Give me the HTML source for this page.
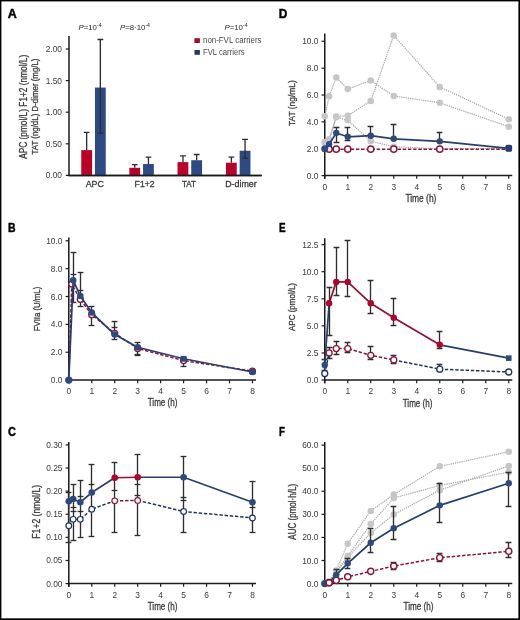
<!DOCTYPE html>
<html><head><meta charset="utf-8"><style>
html,body{margin:0;padding:0;background:#fff;overflow:hidden;}
svg{display:block;will-change:transform;}
text{font-family:"Liberation Sans",sans-serif;}
</style></head><body>
<svg width="520" height="620" viewBox="0 0 520 620">
<rect x="0" y="0" width="520" height="620" fill="#fff"/>
<text x="7.8" y="17.7" font-size="12.8" font-weight="bold" fill="#000" stroke="#000" stroke-width="0.45" textLength="9.0" lengthAdjust="spacingAndGlyphs">A</text>
<line x1="69.00" y1="36.00" x2="69.00" y2="176.10" stroke="#1a1a1a" stroke-width="1.5"/>
<line x1="68.25" y1="175.40" x2="261.70" y2="175.40" stroke="#1a1a1a" stroke-width="1.5"/>
<line x1="65.80" y1="175.40" x2="69.00" y2="175.40" stroke="#1a1a1a" stroke-width="1.2"/>
<text x="62.00" y="178.40" font-size="8.4" fill="#3a3a3a" text-anchor="end">0.00</text>
<line x1="65.80" y1="143.80" x2="69.00" y2="143.80" stroke="#1a1a1a" stroke-width="1.2"/>
<text x="62.00" y="146.80" font-size="8.4" fill="#3a3a3a" text-anchor="end">0.50</text>
<line x1="65.80" y1="112.20" x2="69.00" y2="112.20" stroke="#1a1a1a" stroke-width="1.2"/>
<text x="62.00" y="115.20" font-size="8.4" fill="#3a3a3a" text-anchor="end">1.00</text>
<line x1="65.80" y1="80.60" x2="69.00" y2="80.60" stroke="#1a1a1a" stroke-width="1.2"/>
<text x="62.00" y="83.60" font-size="8.4" fill="#3a3a3a" text-anchor="end">1.50</text>
<line x1="65.80" y1="49.00" x2="69.00" y2="49.00" stroke="#1a1a1a" stroke-width="1.2"/>
<text x="62.00" y="52.00" font-size="8.4" fill="#3a3a3a" text-anchor="end">2.00</text>
<path d="M86.65,132.42V150.12M83.75,132.42H89.55" stroke="#2e2e2e" stroke-width="1.35"/>
<rect x="81.25" y="150.12" width="10.8" height="25.28" fill="#bc0029"/>
<rect x="94.95" y="87.55" width="10.8" height="87.85" fill="#2c4a84"/>
<path d="M100.35,39.52V133.06M97.45,39.52H103.25" stroke="#2e2e2e" stroke-width="1.35"/>
<path d="M97.45,133.06H103.25" stroke="#2e2e2e" stroke-width="1.35"/>
<path d="M134.75,164.66V167.82M131.85,164.66H137.65" stroke="#2e2e2e" stroke-width="1.35"/>
<rect x="129.35" y="167.82" width="10.8" height="7.58" fill="#bc0029"/>
<rect x="143.05" y="164.02" width="10.8" height="11.38" fill="#2c4a84"/>
<path d="M148.45,157.07V164.02M145.55,157.07H151.35" stroke="#2e2e2e" stroke-width="1.35"/>
<path d="M182.95,155.81V162.13M180.05,155.81H185.85" stroke="#2e2e2e" stroke-width="1.35"/>
<rect x="177.55" y="162.13" width="10.8" height="13.27" fill="#bc0029"/>
<rect x="191.25" y="160.23" width="10.8" height="15.17" fill="#2c4a84"/>
<path d="M196.65,154.54V160.23M193.75,154.54H199.55" stroke="#2e2e2e" stroke-width="1.35"/>
<path d="M231.35,157.07V162.76M228.45,157.07H234.25" stroke="#2e2e2e" stroke-width="1.35"/>
<rect x="225.95" y="162.76" width="10.8" height="12.64" fill="#bc0029"/>
<rect x="239.65" y="150.75" width="10.8" height="24.65" fill="#2c4a84"/>
<path d="M245.05,139.38V158.34M242.15,139.38H247.95" stroke="#2e2e2e" stroke-width="1.35"/>
<path d="M242.15,158.34H247.95" stroke="#2e2e2e" stroke-width="1.35"/>
<line x1="68.25" y1="175.40" x2="261.70" y2="175.40" stroke="#1a1a1a" stroke-width="1.5"/>
<text x="94.80" y="186.80" font-size="9.0" fill="#3a3a3a" stroke="#3a3a3a" stroke-width="0.3" text-anchor="middle" textLength="18.2" lengthAdjust="spacingAndGlyphs">APC</text>
<text x="144.60" y="186.80" font-size="9.0" fill="#3a3a3a" stroke="#3a3a3a" stroke-width="0.3" text-anchor="middle" textLength="20.0" lengthAdjust="spacingAndGlyphs">F1+2</text>
<text x="188.90" y="186.80" font-size="9.0" fill="#3a3a3a" stroke="#3a3a3a" stroke-width="0.3" text-anchor="middle" textLength="14.0" lengthAdjust="spacingAndGlyphs">TAT</text>
<text x="240.90" y="186.80" font-size="9.0" fill="#3a3a3a" stroke="#3a3a3a" stroke-width="0.3" text-anchor="middle" textLength="31.5" lengthAdjust="spacingAndGlyphs">D-dimer</text>
<text x="78.5" y="30.2" font-size="7.8" fill="#2a2a2a"><tspan font-style="italic">P</tspan>=10<tspan font-size="5.2" dy="-3">-4</tspan></text>
<text x="120.0" y="30.2" font-size="7.8" fill="#2a2a2a"><tspan font-style="italic">P</tspan>=8·10<tspan font-size="5.2" dy="-3">-4</tspan></text>
<text x="224.5" y="30.2" font-size="7.8" fill="#2a2a2a"><tspan font-style="italic">P</tspan>=10<tspan font-size="5.2" dy="-3">-4</tspan></text>
<rect x="194.4" y="38.2" width="5.5" height="4.8" fill="#a50a2e"/>
<rect x="194.5" y="50.0" width="5.4" height="4.8" fill="#26386c"/>
<text x="203.00" y="43.20" font-size="8.2" fill="#4a4a4a" text-anchor="start" textLength="58.5" lengthAdjust="spacingAndGlyphs">non-FVL carriers</text>
<text x="203.00" y="54.70" font-size="8.2" fill="#4a4a4a" text-anchor="start" textLength="41.6" lengthAdjust="spacingAndGlyphs">FVL carriers</text>
<text transform="translate(27.30,106.80) rotate(-90)" x="0" y="0" font-size="10" fill="#3a3a3a" stroke="#3a3a3a" stroke-width="0.3" text-anchor="middle" textLength="104.0" lengthAdjust="spacingAndGlyphs">APC (pmol/L) F1+2 (nmol/L)</text>
<text transform="translate(38.40,106.50) rotate(-90)" x="0" y="0" font-size="9.6" fill="#3a3a3a" stroke="#3a3a3a" stroke-width="0.3" text-anchor="middle" textLength="96.0" lengthAdjust="spacingAndGlyphs">TAT (ng/dL) D-dimer (mg/L)</text>
<text x="278.8" y="17.8" font-size="12.8" font-weight="bold" fill="#000" stroke="#000" stroke-width="0.45" textLength="8.6" lengthAdjust="spacingAndGlyphs">D</text>
<line x1="324.75" y1="33.50" x2="324.75" y2="178.80" stroke="#1a1a1a" stroke-width="1.5"/>
<line x1="324.00" y1="175.60" x2="512.25" y2="175.60" stroke="#1a1a1a" stroke-width="1.5"/>
<line x1="321.55" y1="175.60" x2="324.75" y2="175.60" stroke="#1a1a1a" stroke-width="1.2"/>
<text x="318.45" y="178.60" font-size="8.4" fill="#3a3a3a" text-anchor="end">0.0</text>
<line x1="321.55" y1="148.74" x2="324.75" y2="148.74" stroke="#1a1a1a" stroke-width="1.2"/>
<text x="318.45" y="151.74" font-size="8.4" fill="#3a3a3a" text-anchor="end">2.0</text>
<line x1="321.55" y1="121.88" x2="324.75" y2="121.88" stroke="#1a1a1a" stroke-width="1.2"/>
<text x="318.45" y="124.88" font-size="8.4" fill="#3a3a3a" text-anchor="end">4.0</text>
<line x1="321.55" y1="95.02" x2="324.75" y2="95.02" stroke="#1a1a1a" stroke-width="1.2"/>
<text x="318.45" y="98.02" font-size="8.4" fill="#3a3a3a" text-anchor="end">6.0</text>
<line x1="321.55" y1="68.16" x2="324.75" y2="68.16" stroke="#1a1a1a" stroke-width="1.2"/>
<text x="318.45" y="71.16" font-size="8.4" fill="#3a3a3a" text-anchor="end">8.0</text>
<line x1="321.55" y1="41.30" x2="324.75" y2="41.30" stroke="#1a1a1a" stroke-width="1.2"/>
<text x="318.45" y="44.30" font-size="8.4" fill="#3a3a3a" text-anchor="end">10.0</text>
<line x1="324.75" y1="175.60" x2="324.75" y2="178.80" stroke="#1a1a1a" stroke-width="1.2"/>
<text x="324.75" y="189.60" font-size="8.4" fill="#3a3a3a" text-anchor="middle">0</text>
<line x1="347.75" y1="175.60" x2="347.75" y2="178.80" stroke="#1a1a1a" stroke-width="1.2"/>
<text x="347.75" y="189.60" font-size="8.4" fill="#3a3a3a" text-anchor="middle">1</text>
<line x1="370.75" y1="175.60" x2="370.75" y2="178.80" stroke="#1a1a1a" stroke-width="1.2"/>
<text x="370.75" y="189.60" font-size="8.4" fill="#3a3a3a" text-anchor="middle">2</text>
<line x1="393.75" y1="175.60" x2="393.75" y2="178.80" stroke="#1a1a1a" stroke-width="1.2"/>
<text x="393.75" y="189.60" font-size="8.4" fill="#3a3a3a" text-anchor="middle">3</text>
<line x1="416.75" y1="175.60" x2="416.75" y2="178.80" stroke="#1a1a1a" stroke-width="1.2"/>
<text x="416.75" y="189.60" font-size="8.4" fill="#3a3a3a" text-anchor="middle">4</text>
<line x1="439.75" y1="175.60" x2="439.75" y2="178.80" stroke="#1a1a1a" stroke-width="1.2"/>
<text x="439.75" y="189.60" font-size="8.4" fill="#3a3a3a" text-anchor="middle">5</text>
<line x1="462.75" y1="175.60" x2="462.75" y2="178.80" stroke="#1a1a1a" stroke-width="1.2"/>
<text x="462.75" y="189.60" font-size="8.4" fill="#3a3a3a" text-anchor="middle">6</text>
<line x1="485.75" y1="175.60" x2="485.75" y2="178.80" stroke="#1a1a1a" stroke-width="1.2"/>
<text x="485.75" y="189.60" font-size="8.4" fill="#3a3a3a" text-anchor="middle">7</text>
<line x1="508.75" y1="175.60" x2="508.75" y2="178.80" stroke="#1a1a1a" stroke-width="1.2"/>
<text x="508.75" y="189.60" font-size="8.4" fill="#3a3a3a" text-anchor="middle">8</text>
<path d="M324.75,116.37 L329.12,96.36 L336.25,77.56 L347.75,88.98 L370.75,80.52 L393.75,95.96 L439.75,102.81 L508.75,126.71" stroke="#aaaaaa" stroke-width="1.25" fill="none" stroke-linejoin="round" stroke-dasharray="1.3,0.9"/>
<path d="M324.75,142.02 L329.12,139.34 L336.25,116.51 L347.75,115.70 L370.75,100.93 L393.75,35.39 L439.75,86.96 L508.75,119.19" stroke="#aaaaaa" stroke-width="1.25" fill="none" stroke-linejoin="round" stroke-dasharray="1.3,0.9"/>
<path d="M324.75,142.70 L329.12,140.68 L336.25,117.18 L347.75,120.27 L370.75,141.22 L393.75,146.73 L439.75,148.74 L508.75,148.74" stroke="#aaaaaa" stroke-width="1.25" fill="none" stroke-linejoin="round" stroke-dasharray="1.3,0.9"/>
<circle cx="324.75" cy="116.37" r="3.25" fill="#c6c6c6"/>
<circle cx="329.12" cy="96.36" r="3.25" fill="#c6c6c6"/>
<circle cx="336.25" cy="77.56" r="3.25" fill="#c6c6c6"/>
<circle cx="347.75" cy="88.98" r="3.25" fill="#c6c6c6"/>
<circle cx="370.75" cy="80.52" r="3.25" fill="#c6c6c6"/>
<circle cx="393.75" cy="95.96" r="3.25" fill="#c6c6c6"/>
<circle cx="439.75" cy="102.81" r="3.25" fill="#c6c6c6"/>
<circle cx="508.75" cy="126.71" r="3.25" fill="#c6c6c6"/>
<circle cx="324.75" cy="142.02" r="3.25" fill="#c6c6c6"/>
<circle cx="329.12" cy="139.34" r="3.25" fill="#c6c6c6"/>
<circle cx="336.25" cy="116.51" r="3.25" fill="#c6c6c6"/>
<circle cx="347.75" cy="115.70" r="3.25" fill="#c6c6c6"/>
<circle cx="370.75" cy="100.93" r="3.25" fill="#c6c6c6"/>
<circle cx="393.75" cy="35.39" r="3.25" fill="#c6c6c6"/>
<circle cx="439.75" cy="86.96" r="3.25" fill="#c6c6c6"/>
<circle cx="508.75" cy="119.19" r="3.25" fill="#c6c6c6"/>
<circle cx="324.75" cy="142.70" r="3.25" fill="#c6c6c6"/>
<circle cx="329.12" cy="140.68" r="3.25" fill="#c6c6c6"/>
<circle cx="336.25" cy="117.18" r="3.25" fill="#c6c6c6"/>
<circle cx="347.75" cy="120.27" r="3.25" fill="#c6c6c6"/>
<circle cx="370.75" cy="141.22" r="3.25" fill="#c6c6c6"/>
<circle cx="393.75" cy="146.73" r="3.25" fill="#c6c6c6"/>
<circle cx="439.75" cy="148.74" r="3.25" fill="#c6c6c6"/>
<circle cx="508.75" cy="148.74" r="3.25" fill="#c6c6c6"/>
<path d="M336.50,127.50V142.50M333.60,127.50H339.40M333.60,142.50H339.40" stroke="#2e2e2e" stroke-width="1.35" fill="none"/>
<path d="M347.50,127.50V140.50M344.60,127.50H350.40M344.60,140.50H350.40" stroke="#2e2e2e" stroke-width="1.35" fill="none"/>
<path d="M370.50,126.50V135.50M367.60,126.50H373.40M367.60,135.50H373.40" stroke="#2e2e2e" stroke-width="1.35" fill="none"/>
<path d="M393.50,124.50V138.50M390.60,124.50H396.40M390.60,138.50H396.40" stroke="#2e2e2e" stroke-width="1.35" fill="none"/>
<path d="M439.50,132.50V141.50M436.60,132.50H442.40M436.60,141.50H442.40" stroke="#2e2e2e" stroke-width="1.35" fill="none"/>
<path d="M324.75,149.14 L329.12,149.14 L336.25,149.14 L347.75,149.14 L370.75,149.14 L393.75,149.14 L439.75,149.14 L508.75,149.14" stroke="#8c1434" stroke-width="1.5" fill="none" stroke-linejoin="round" stroke-dasharray="3.4,1.8"/>
<path d="M324.75,148.74 L329.12,144.17 L336.25,133.03 L347.75,136.79 L370.75,135.71 L393.75,138.80 L439.75,141.35 L508.75,148.34" stroke="#243f70" stroke-width="1.7" fill="none" stroke-linejoin="round"/>
<circle cx="329.12" cy="149.14" r="3.1" fill="#fff" stroke="#8c1434" stroke-width="1.4"/>
<circle cx="336.25" cy="149.14" r="3.1" fill="#fff" stroke="#8c1434" stroke-width="1.4"/>
<circle cx="347.75" cy="149.14" r="3.1" fill="#fff" stroke="#8c1434" stroke-width="1.4"/>
<circle cx="370.75" cy="149.14" r="3.1" fill="#fff" stroke="#8c1434" stroke-width="1.4"/>
<circle cx="393.75" cy="149.14" r="3.1" fill="#fff" stroke="#8c1434" stroke-width="1.4"/>
<circle cx="439.75" cy="149.14" r="3.1" fill="#fff" stroke="#8c1434" stroke-width="1.4"/>
<circle cx="324.75" cy="148.74" r="3.5" fill="#2c4a80"/>
<circle cx="329.12" cy="144.17" r="3.2" fill="#2c4a80"/>
<circle cx="336.25" cy="133.03" r="3.2" fill="#2c4a80"/>
<circle cx="347.75" cy="136.79" r="3.2" fill="#2c4a80"/>
<circle cx="370.75" cy="135.71" r="3.2" fill="#2c4a80"/>
<circle cx="393.75" cy="138.80" r="3.2" fill="#2c4a80"/>
<circle cx="439.75" cy="141.35" r="3.2" fill="#2c4a80"/>
<rect x="505.35" y="144.74" width="6.8" height="7.0" rx="1.8" fill="#273f72"/>
<text x="420.90" y="202.30" font-size="10.8" fill="#3a3a3a" stroke="#3a3a3a" stroke-width="0.3" text-anchor="middle" textLength="31.0" lengthAdjust="spacingAndGlyphs">Time (h)</text>
<text transform="translate(295.30,103.20) rotate(-90)" x="0" y="0" font-size="9.6" fill="#3a3a3a" stroke="#3a3a3a" stroke-width="0.3" text-anchor="middle" textLength="45.8" lengthAdjust="spacingAndGlyphs">TAT (ng/mL)</text>
<text x="8.0" y="231.9" font-size="12.8" font-weight="bold" fill="#000" stroke="#000" stroke-width="0.45" textLength="7.6" lengthAdjust="spacingAndGlyphs">B</text>
<line x1="68.80" y1="237.50" x2="68.80" y2="383.30" stroke="#1a1a1a" stroke-width="1.5"/>
<line x1="68.05" y1="380.10" x2="255.98" y2="380.10" stroke="#1a1a1a" stroke-width="1.5"/>
<line x1="65.60" y1="380.10" x2="68.80" y2="380.10" stroke="#1a1a1a" stroke-width="1.2"/>
<text x="62.50" y="383.10" font-size="8.4" fill="#3a3a3a" text-anchor="end">0.0</text>
<line x1="65.60" y1="352.24" x2="68.80" y2="352.24" stroke="#1a1a1a" stroke-width="1.2"/>
<text x="62.50" y="355.24" font-size="8.4" fill="#3a3a3a" text-anchor="end">2.0</text>
<line x1="65.60" y1="324.38" x2="68.80" y2="324.38" stroke="#1a1a1a" stroke-width="1.2"/>
<text x="62.50" y="327.38" font-size="8.4" fill="#3a3a3a" text-anchor="end">4.0</text>
<line x1="65.60" y1="296.52" x2="68.80" y2="296.52" stroke="#1a1a1a" stroke-width="1.2"/>
<text x="62.50" y="299.52" font-size="8.4" fill="#3a3a3a" text-anchor="end">6.0</text>
<line x1="65.60" y1="268.66" x2="68.80" y2="268.66" stroke="#1a1a1a" stroke-width="1.2"/>
<text x="62.50" y="271.66" font-size="8.4" fill="#3a3a3a" text-anchor="end">8.0</text>
<line x1="65.60" y1="240.80" x2="68.80" y2="240.80" stroke="#1a1a1a" stroke-width="1.2"/>
<text x="62.50" y="243.80" font-size="8.4" fill="#3a3a3a" text-anchor="end">10.0</text>
<line x1="68.80" y1="380.10" x2="68.80" y2="383.30" stroke="#1a1a1a" stroke-width="1.2"/>
<text x="68.80" y="394.10" font-size="8.4" fill="#3a3a3a" text-anchor="middle">0</text>
<line x1="91.76" y1="380.10" x2="91.76" y2="383.30" stroke="#1a1a1a" stroke-width="1.2"/>
<text x="91.76" y="394.10" font-size="8.4" fill="#3a3a3a" text-anchor="middle">1</text>
<line x1="114.72" y1="380.10" x2="114.72" y2="383.30" stroke="#1a1a1a" stroke-width="1.2"/>
<text x="114.72" y="394.10" font-size="8.4" fill="#3a3a3a" text-anchor="middle">2</text>
<line x1="137.68" y1="380.10" x2="137.68" y2="383.30" stroke="#1a1a1a" stroke-width="1.2"/>
<text x="137.68" y="394.10" font-size="8.4" fill="#3a3a3a" text-anchor="middle">3</text>
<line x1="160.64" y1="380.10" x2="160.64" y2="383.30" stroke="#1a1a1a" stroke-width="1.2"/>
<text x="160.64" y="394.10" font-size="8.4" fill="#3a3a3a" text-anchor="middle">4</text>
<line x1="183.60" y1="380.10" x2="183.60" y2="383.30" stroke="#1a1a1a" stroke-width="1.2"/>
<text x="183.60" y="394.10" font-size="8.4" fill="#3a3a3a" text-anchor="middle">5</text>
<line x1="206.56" y1="380.10" x2="206.56" y2="383.30" stroke="#1a1a1a" stroke-width="1.2"/>
<text x="206.56" y="394.10" font-size="8.4" fill="#3a3a3a" text-anchor="middle">6</text>
<line x1="229.52" y1="380.10" x2="229.52" y2="383.30" stroke="#1a1a1a" stroke-width="1.2"/>
<text x="229.52" y="394.10" font-size="8.4" fill="#3a3a3a" text-anchor="middle">7</text>
<line x1="252.48" y1="380.10" x2="252.48" y2="383.30" stroke="#1a1a1a" stroke-width="1.2"/>
<text x="252.48" y="394.10" font-size="8.4" fill="#3a3a3a" text-anchor="middle">8</text>
<path d="M73.50,252.50V302.50" stroke="#2e2e2e" stroke-width="1.35"/>
<path d="M70.60,252.50H76.40" stroke="#2e2e2e" stroke-width="1.35"/>
<path d="M70.60,274.50H76.40" stroke="#2e2e2e" stroke-width="1.35"/>
<path d="M70.60,302.50H76.40" stroke="#2e2e2e" stroke-width="1.35"/>
<path d="M80.50,272.50V306.50" stroke="#2e2e2e" stroke-width="1.35"/>
<path d="M77.60,272.50H83.40" stroke="#2e2e2e" stroke-width="1.35"/>
<path d="M77.60,290.50H83.40" stroke="#2e2e2e" stroke-width="1.35"/>
<path d="M77.60,306.50H83.40" stroke="#2e2e2e" stroke-width="1.35"/>
<path d="M91.50,306.50V325.50" stroke="#2e2e2e" stroke-width="1.35"/>
<path d="M88.60,306.50H94.40" stroke="#2e2e2e" stroke-width="1.35"/>
<path d="M88.60,325.50H94.40" stroke="#2e2e2e" stroke-width="1.35"/>
<path d="M114.50,321.50V339.50" stroke="#2e2e2e" stroke-width="1.35"/>
<path d="M111.60,321.50H117.40" stroke="#2e2e2e" stroke-width="1.35"/>
<path d="M111.60,327.50H117.40" stroke="#2e2e2e" stroke-width="1.35"/>
<path d="M111.60,339.50H117.40" stroke="#2e2e2e" stroke-width="1.35"/>
<path d="M137.50,342.50V355.50" stroke="#2e2e2e" stroke-width="1.35"/>
<path d="M134.60,342.50H140.40" stroke="#2e2e2e" stroke-width="1.35"/>
<path d="M134.60,354.50H140.40" stroke="#2e2e2e" stroke-width="1.35"/>
<path d="M134.60,355.50H140.40" stroke="#2e2e2e" stroke-width="1.35"/>
<path d="M183.50,357.50V366.50" stroke="#2e2e2e" stroke-width="1.35"/>
<path d="M180.60,357.50H186.40" stroke="#2e2e2e" stroke-width="1.35"/>
<path d="M180.60,366.50H186.40" stroke="#2e2e2e" stroke-width="1.35"/>
<path d="M252.50,370.50V373.50" stroke="#2e2e2e" stroke-width="1.35"/>
<path d="M249.60,370.50H255.40" stroke="#2e2e2e" stroke-width="1.35"/>
<path d="M249.60,373.50H255.40" stroke="#2e2e2e" stroke-width="1.35"/>
<path d="M68.80,380.10 L71.78,283.98 L80.28,299.31 L91.76,314.63 L114.72,333.30 L137.68,348.48 L183.60,360.60 L252.48,371.18" stroke="#8c1434" stroke-width="1.5" fill="none" stroke-linejoin="round" stroke-dasharray="3.4,1.8"/>
<circle cx="71.78" cy="283.98" r="3.0" fill="#fff" stroke="#8c1434" stroke-width="1.35"/>
<circle cx="80.28" cy="299.31" r="3.0" fill="#fff" stroke="#8c1434" stroke-width="1.35"/>
<circle cx="91.76" cy="314.63" r="3.0" fill="#fff" stroke="#8c1434" stroke-width="1.35"/>
<circle cx="114.72" cy="333.30" r="3.0" fill="#fff" stroke="#8c1434" stroke-width="1.35"/>
<circle cx="137.68" cy="348.48" r="3.0" fill="#fff" stroke="#8c1434" stroke-width="1.35"/>
<circle cx="183.60" cy="360.60" r="3.0" fill="#fff" stroke="#8c1434" stroke-width="1.35"/>
<circle cx="252.48" cy="371.18" r="3.0" fill="#fff" stroke="#8c1434" stroke-width="1.35"/>
<path d="M68.80,380.10 L73.16,280.22 L80.28,295.96 L91.76,312.54 L114.72,334.55 L137.68,347.23 L183.60,358.79 L252.48,372.02" stroke="#243f70" stroke-width="1.7" fill="none" stroke-linejoin="round"/>
<circle cx="68.80" cy="380.10" r="3.7" fill="#2c4a80"/>
<circle cx="73.16" cy="280.22" r="3.3" fill="#2c4a80"/>
<circle cx="80.28" cy="295.96" r="3.3" fill="#2c4a80"/>
<circle cx="91.76" cy="312.54" r="3.3" fill="#2c4a80"/>
<circle cx="114.72" cy="334.55" r="3.3" fill="#2c4a80"/>
<circle cx="137.68" cy="347.23" r="3.3" fill="#2c4a80"/>
<rect x="180.70" y="355.89" width="5.80" height="5.80" fill="#2c4a80"/>
<circle cx="252.48" cy="372.02" r="3.3" fill="#2c4a80"/>
<text x="162.60" y="406.40" font-size="10.8" fill="#3a3a3a" stroke="#3a3a3a" stroke-width="0.3" text-anchor="middle" textLength="29.8" lengthAdjust="spacingAndGlyphs">Time (h)</text>
<text transform="translate(39.70,309.00) rotate(-90)" x="0" y="0" font-size="9.8" fill="#3a3a3a" stroke="#3a3a3a" stroke-width="0.3" text-anchor="middle" textLength="44.6" lengthAdjust="spacingAndGlyphs">FVIIa (U/mL)</text>
<text x="278.9" y="231.8" font-size="12.8" font-weight="bold" fill="#000" stroke="#000" stroke-width="0.45" textLength="6.6" lengthAdjust="spacingAndGlyphs">E</text>
<line x1="324.75" y1="238.20" x2="324.75" y2="383.20" stroke="#1a1a1a" stroke-width="1.5"/>
<line x1="324.00" y1="380.00" x2="512.25" y2="380.00" stroke="#1a1a1a" stroke-width="1.5"/>
<line x1="321.55" y1="380.00" x2="324.75" y2="380.00" stroke="#1a1a1a" stroke-width="1.2"/>
<text x="318.45" y="383.00" font-size="8.4" fill="#3a3a3a" text-anchor="end">0.0</text>
<line x1="321.55" y1="352.93" x2="324.75" y2="352.93" stroke="#1a1a1a" stroke-width="1.2"/>
<text x="318.45" y="355.93" font-size="8.4" fill="#3a3a3a" text-anchor="end">2.5</text>
<line x1="321.55" y1="325.85" x2="324.75" y2="325.85" stroke="#1a1a1a" stroke-width="1.2"/>
<text x="318.45" y="328.85" font-size="8.4" fill="#3a3a3a" text-anchor="end">5.0</text>
<line x1="321.55" y1="298.77" x2="324.75" y2="298.77" stroke="#1a1a1a" stroke-width="1.2"/>
<text x="318.45" y="301.77" font-size="8.4" fill="#3a3a3a" text-anchor="end">7.5</text>
<line x1="321.55" y1="271.70" x2="324.75" y2="271.70" stroke="#1a1a1a" stroke-width="1.2"/>
<text x="318.45" y="274.70" font-size="8.4" fill="#3a3a3a" text-anchor="end">10.0</text>
<line x1="321.55" y1="244.62" x2="324.75" y2="244.62" stroke="#1a1a1a" stroke-width="1.2"/>
<text x="318.45" y="247.62" font-size="8.4" fill="#3a3a3a" text-anchor="end">12.5</text>
<line x1="324.75" y1="380.00" x2="324.75" y2="383.20" stroke="#1a1a1a" stroke-width="1.2"/>
<text x="324.75" y="394.00" font-size="8.4" fill="#3a3a3a" text-anchor="middle">0</text>
<line x1="347.75" y1="380.00" x2="347.75" y2="383.20" stroke="#1a1a1a" stroke-width="1.2"/>
<text x="347.75" y="394.00" font-size="8.4" fill="#3a3a3a" text-anchor="middle">1</text>
<line x1="370.75" y1="380.00" x2="370.75" y2="383.20" stroke="#1a1a1a" stroke-width="1.2"/>
<text x="370.75" y="394.00" font-size="8.4" fill="#3a3a3a" text-anchor="middle">2</text>
<line x1="393.75" y1="380.00" x2="393.75" y2="383.20" stroke="#1a1a1a" stroke-width="1.2"/>
<text x="393.75" y="394.00" font-size="8.4" fill="#3a3a3a" text-anchor="middle">3</text>
<line x1="416.75" y1="380.00" x2="416.75" y2="383.20" stroke="#1a1a1a" stroke-width="1.2"/>
<text x="416.75" y="394.00" font-size="8.4" fill="#3a3a3a" text-anchor="middle">4</text>
<line x1="439.75" y1="380.00" x2="439.75" y2="383.20" stroke="#1a1a1a" stroke-width="1.2"/>
<text x="439.75" y="394.00" font-size="8.4" fill="#3a3a3a" text-anchor="middle">5</text>
<line x1="462.75" y1="380.00" x2="462.75" y2="383.20" stroke="#1a1a1a" stroke-width="1.2"/>
<text x="462.75" y="394.00" font-size="8.4" fill="#3a3a3a" text-anchor="middle">6</text>
<line x1="485.75" y1="380.00" x2="485.75" y2="383.20" stroke="#1a1a1a" stroke-width="1.2"/>
<text x="485.75" y="394.00" font-size="8.4" fill="#3a3a3a" text-anchor="middle">7</text>
<line x1="508.75" y1="380.00" x2="508.75" y2="383.20" stroke="#1a1a1a" stroke-width="1.2"/>
<text x="508.75" y="394.00" font-size="8.4" fill="#3a3a3a" text-anchor="middle">8</text>
<path d="M324.50,359.50V370.50M321.60,359.50H327.40M321.60,370.50H327.40" stroke="#2e2e2e" stroke-width="1.35" fill="none"/>
<path d="M329.50,287.50V335.50M326.60,287.50H332.40M326.60,335.50H332.40" stroke="#2e2e2e" stroke-width="1.35" fill="none"/>
<path d="M336.50,247.50V295.50M333.60,247.50H339.40M333.60,295.50H339.40" stroke="#2e2e2e" stroke-width="1.35" fill="none"/>
<path d="M347.50,240.50V296.50M344.60,240.50H350.40M344.60,296.50H350.40" stroke="#2e2e2e" stroke-width="1.35" fill="none"/>
<path d="M370.50,280.50V313.50M367.60,280.50H373.40M367.60,313.50H373.40" stroke="#2e2e2e" stroke-width="1.35" fill="none"/>
<path d="M393.50,298.50V325.50M390.60,298.50H396.40M390.60,325.50H396.40" stroke="#2e2e2e" stroke-width="1.35" fill="none"/>
<path d="M439.50,331.50V348.50M436.60,331.50H442.40M436.60,348.50H442.40" stroke="#2e2e2e" stroke-width="1.35" fill="none"/>
<path d="M329.50,347.50V358.50M326.60,347.50H332.40M326.60,358.50H332.40" stroke="#2e2e2e" stroke-width="1.35" fill="none"/>
<path d="M336.50,341.50V354.50M333.60,341.50H339.40M333.60,354.50H339.40" stroke="#2e2e2e" stroke-width="1.35" fill="none"/>
<path d="M347.50,342.50V352.50M344.60,342.50H350.40M344.60,352.50H350.40" stroke="#2e2e2e" stroke-width="1.35" fill="none"/>
<path d="M370.50,346.50V359.50M367.60,346.50H373.40M367.60,359.50H373.40" stroke="#2e2e2e" stroke-width="1.35" fill="none"/>
<path d="M393.50,355.50V363.50M390.60,355.50H396.40M390.60,363.50H396.40" stroke="#2e2e2e" stroke-width="1.35" fill="none"/>
<path d="M439.50,364.50V370.50M436.60,364.50H442.40M436.60,370.50H442.40" stroke="#2e2e2e" stroke-width="1.35" fill="none"/>
<path d="M508.50,370.50V373.50M505.60,370.50H511.40M505.60,373.50H511.40" stroke="#2e2e2e" stroke-width="1.35" fill="none"/>
<path d="M324.75,373.61 L329.12,352.93" stroke="#1f3560" stroke-width="1.5" fill="none" stroke-linejoin="round" stroke-dasharray="3.4,1.8"/>
<path d="M329.12,352.93 L336.25,348.59 L347.75,348.59 L370.75,355.31 L393.75,359.96" stroke="#8c1434" stroke-width="1.5" fill="none" stroke-linejoin="round" stroke-dasharray="3.4,1.8"/>
<path d="M393.75,359.96 L439.75,369.17 L508.75,371.99" stroke="#1f3560" stroke-width="1.5" fill="none" stroke-linejoin="round" stroke-dasharray="3.4,1.8"/>
<path d="M324.75,364.95 L329.12,303.32" stroke="#243f70" stroke-width="1.7" fill="none" stroke-linejoin="round"/>
<path d="M329.12,303.32 L336.25,281.88 L347.75,281.88 L370.75,303.32 L393.75,317.73 L439.75,344.80" stroke="#990d30" stroke-width="1.7" fill="none" stroke-linejoin="round"/>
<path d="M439.75,344.80 L508.75,358.12" stroke="#243f70" stroke-width="1.7" fill="none" stroke-linejoin="round"/>
<circle cx="324.75" cy="373.61" r="3.0" fill="#fff" stroke="#1f3560" stroke-width="1.3"/>
<circle cx="329.12" cy="352.93" r="3.0" fill="#fff" stroke="#8c1434" stroke-width="1.3"/>
<circle cx="336.25" cy="348.59" r="3.0" fill="#fff" stroke="#8c1434" stroke-width="1.3"/>
<circle cx="347.75" cy="348.59" r="3.0" fill="#fff" stroke="#8c1434" stroke-width="1.3"/>
<circle cx="370.75" cy="355.31" r="3.0" fill="#fff" stroke="#8c1434" stroke-width="1.3"/>
<circle cx="393.75" cy="359.96" r="3.0" fill="#fff" stroke="#8c1434" stroke-width="1.3"/>
<circle cx="439.75" cy="369.17" r="3.0" fill="#fff" stroke="#1f3560" stroke-width="1.3"/>
<circle cx="508.75" cy="371.99" r="3.0" fill="#fff" stroke="#1f3560" stroke-width="1.3"/>
<circle cx="324.75" cy="364.95" r="3.2" fill="#2c4a80"/>
<circle cx="329.12" cy="303.32" r="3.2" fill="#b5002c"/>
<circle cx="336.25" cy="281.88" r="3.2" fill="#b5002c"/>
<circle cx="347.75" cy="281.88" r="3.2" fill="#b5002c"/>
<circle cx="370.75" cy="303.32" r="3.2" fill="#b5002c"/>
<circle cx="393.75" cy="317.73" r="3.2" fill="#b5002c"/>
<circle cx="439.75" cy="344.80" r="3.2" fill="#b5002c"/>
<rect x="505.95" y="355.32" width="5.60" height="5.60" fill="#2c4a80"/>
<text x="417.60" y="406.60" font-size="10.8" fill="#3a3a3a" stroke="#3a3a3a" stroke-width="0.3" text-anchor="middle" textLength="29.8" lengthAdjust="spacingAndGlyphs">Time (h)</text>
<text transform="translate(295.30,307.00) rotate(-90)" x="0" y="0" font-size="9.6" fill="#3a3a3a" stroke="#3a3a3a" stroke-width="0.3" text-anchor="middle" textLength="48.0" lengthAdjust="spacingAndGlyphs">APC (pmol/L)</text>
<text x="8.0" y="436.2" font-size="12.8" font-weight="bold" fill="#000" stroke="#000" stroke-width="0.45" textLength="7.9" lengthAdjust="spacingAndGlyphs">C</text>
<line x1="68.80" y1="442.00" x2="68.80" y2="586.80" stroke="#1a1a1a" stroke-width="1.5"/>
<line x1="68.05" y1="583.60" x2="255.98" y2="583.60" stroke="#1a1a1a" stroke-width="1.5"/>
<line x1="65.60" y1="583.60" x2="68.80" y2="583.60" stroke="#1a1a1a" stroke-width="1.2"/>
<text x="62.50" y="586.60" font-size="8.4" fill="#3a3a3a" text-anchor="end">0.00</text>
<line x1="65.60" y1="560.49" x2="68.80" y2="560.49" stroke="#1a1a1a" stroke-width="1.2"/>
<text x="62.50" y="563.49" font-size="8.4" fill="#3a3a3a" text-anchor="end">0.05</text>
<line x1="65.60" y1="537.37" x2="68.80" y2="537.37" stroke="#1a1a1a" stroke-width="1.2"/>
<text x="62.50" y="540.37" font-size="8.4" fill="#3a3a3a" text-anchor="end">0.10</text>
<line x1="65.60" y1="514.25" x2="68.80" y2="514.25" stroke="#1a1a1a" stroke-width="1.2"/>
<text x="62.50" y="517.25" font-size="8.4" fill="#3a3a3a" text-anchor="end">0.15</text>
<line x1="65.60" y1="491.14" x2="68.80" y2="491.14" stroke="#1a1a1a" stroke-width="1.2"/>
<text x="62.50" y="494.14" font-size="8.4" fill="#3a3a3a" text-anchor="end">0.20</text>
<line x1="65.60" y1="468.03" x2="68.80" y2="468.03" stroke="#1a1a1a" stroke-width="1.2"/>
<text x="62.50" y="471.03" font-size="8.4" fill="#3a3a3a" text-anchor="end">0.25</text>
<line x1="65.60" y1="444.91" x2="68.80" y2="444.91" stroke="#1a1a1a" stroke-width="1.2"/>
<text x="62.50" y="447.91" font-size="8.4" fill="#3a3a3a" text-anchor="end">0.30</text>
<line x1="68.80" y1="583.60" x2="68.80" y2="586.80" stroke="#1a1a1a" stroke-width="1.2"/>
<text x="68.80" y="597.60" font-size="8.4" fill="#3a3a3a" text-anchor="middle">0</text>
<line x1="91.76" y1="583.60" x2="91.76" y2="586.80" stroke="#1a1a1a" stroke-width="1.2"/>
<text x="91.76" y="597.60" font-size="8.4" fill="#3a3a3a" text-anchor="middle">1</text>
<line x1="114.72" y1="583.60" x2="114.72" y2="586.80" stroke="#1a1a1a" stroke-width="1.2"/>
<text x="114.72" y="597.60" font-size="8.4" fill="#3a3a3a" text-anchor="middle">2</text>
<line x1="137.68" y1="583.60" x2="137.68" y2="586.80" stroke="#1a1a1a" stroke-width="1.2"/>
<text x="137.68" y="597.60" font-size="8.4" fill="#3a3a3a" text-anchor="middle">3</text>
<line x1="160.64" y1="583.60" x2="160.64" y2="586.80" stroke="#1a1a1a" stroke-width="1.2"/>
<text x="160.64" y="597.60" font-size="8.4" fill="#3a3a3a" text-anchor="middle">4</text>
<line x1="183.60" y1="583.60" x2="183.60" y2="586.80" stroke="#1a1a1a" stroke-width="1.2"/>
<text x="183.60" y="597.60" font-size="8.4" fill="#3a3a3a" text-anchor="middle">5</text>
<line x1="206.56" y1="583.60" x2="206.56" y2="586.80" stroke="#1a1a1a" stroke-width="1.2"/>
<text x="206.56" y="597.60" font-size="8.4" fill="#3a3a3a" text-anchor="middle">6</text>
<line x1="229.52" y1="583.60" x2="229.52" y2="586.80" stroke="#1a1a1a" stroke-width="1.2"/>
<text x="229.52" y="597.60" font-size="8.4" fill="#3a3a3a" text-anchor="middle">7</text>
<line x1="252.48" y1="583.60" x2="252.48" y2="586.80" stroke="#1a1a1a" stroke-width="1.2"/>
<text x="252.48" y="597.60" font-size="8.4" fill="#3a3a3a" text-anchor="middle">8</text>
<path d="M68.50,492.50V542.50" stroke="#2e2e2e" stroke-width="1.35"/>
<path d="M65.60,492.50H71.40" stroke="#2e2e2e" stroke-width="1.35"/>
<path d="M65.60,542.50H71.40" stroke="#2e2e2e" stroke-width="1.35"/>
<path d="M73.50,484.50V540.50" stroke="#2e2e2e" stroke-width="1.35"/>
<path d="M70.60,484.50H76.40" stroke="#2e2e2e" stroke-width="1.35"/>
<path d="M70.60,507.50H76.40" stroke="#2e2e2e" stroke-width="1.35"/>
<path d="M70.60,511.50H76.40" stroke="#2e2e2e" stroke-width="1.35"/>
<path d="M70.60,540.50H76.40" stroke="#2e2e2e" stroke-width="1.35"/>
<path d="M80.50,480.50V537.50" stroke="#2e2e2e" stroke-width="1.35"/>
<path d="M77.60,480.50H83.40" stroke="#2e2e2e" stroke-width="1.35"/>
<path d="M77.60,496.50H83.40" stroke="#2e2e2e" stroke-width="1.35"/>
<path d="M77.60,511.50H83.40" stroke="#2e2e2e" stroke-width="1.35"/>
<path d="M77.60,537.50H83.40" stroke="#2e2e2e" stroke-width="1.35"/>
<path d="M91.50,464.50V536.50" stroke="#2e2e2e" stroke-width="1.35"/>
<path d="M88.60,464.50H94.40" stroke="#2e2e2e" stroke-width="1.35"/>
<path d="M88.60,484.50H94.40" stroke="#2e2e2e" stroke-width="1.35"/>
<path d="M88.60,536.50H94.40" stroke="#2e2e2e" stroke-width="1.35"/>
<path d="M114.50,462.50V532.50" stroke="#2e2e2e" stroke-width="1.35"/>
<path d="M111.60,462.50H117.40" stroke="#2e2e2e" stroke-width="1.35"/>
<path d="M111.60,490.50H117.40" stroke="#2e2e2e" stroke-width="1.35"/>
<path d="M111.60,532.50H117.40" stroke="#2e2e2e" stroke-width="1.35"/>
<path d="M137.50,454.50V535.50" stroke="#2e2e2e" stroke-width="1.35"/>
<path d="M134.60,454.50H140.40" stroke="#2e2e2e" stroke-width="1.35"/>
<path d="M134.60,484.50H140.40" stroke="#2e2e2e" stroke-width="1.35"/>
<path d="M134.60,495.50H140.40" stroke="#2e2e2e" stroke-width="1.35"/>
<path d="M134.60,535.50H140.40" stroke="#2e2e2e" stroke-width="1.35"/>
<path d="M183.50,456.50V532.50" stroke="#2e2e2e" stroke-width="1.35"/>
<path d="M180.60,456.50H186.40" stroke="#2e2e2e" stroke-width="1.35"/>
<path d="M180.60,497.50H186.40" stroke="#2e2e2e" stroke-width="1.35"/>
<path d="M180.60,500.50H186.40" stroke="#2e2e2e" stroke-width="1.35"/>
<path d="M180.60,532.50H186.40" stroke="#2e2e2e" stroke-width="1.35"/>
<path d="M252.50,481.50V532.50" stroke="#2e2e2e" stroke-width="1.35"/>
<path d="M249.60,481.50H255.40" stroke="#2e2e2e" stroke-width="1.35"/>
<path d="M249.60,507.50H255.40" stroke="#2e2e2e" stroke-width="1.35"/>
<path d="M249.60,532.50H255.40" stroke="#2e2e2e" stroke-width="1.35"/>
<path d="M68.80,525.81 L73.16,519.34 L80.28,519.34 L91.76,509.17 L114.72,500.85" stroke="#1f3560" stroke-width="1.5" fill="none" stroke-linejoin="round" stroke-dasharray="3.4,1.8"/>
<path d="M114.72,500.85 L137.68,500.39" stroke="#8c1434" stroke-width="1.5" fill="none" stroke-linejoin="round" stroke-dasharray="3.4,1.8"/>
<path d="M137.68,500.39 L183.60,511.48 L252.48,517.95" stroke="#1f3560" stroke-width="1.5" fill="none" stroke-linejoin="round" stroke-dasharray="3.4,1.8"/>
<path d="M68.80,501.31 L73.16,499.00 L80.28,502.24 L91.76,492.53 L114.72,477.73" stroke="#243f70" stroke-width="1.7" fill="none" stroke-linejoin="round"/>
<path d="M114.72,477.73 L137.68,477.27" stroke="#990d30" stroke-width="1.7" fill="none" stroke-linejoin="round"/>
<path d="M137.68,477.27 L183.60,477.27 L252.48,502.24" stroke="#243f70" stroke-width="1.7" fill="none" stroke-linejoin="round"/>
<circle cx="68.80" cy="525.81" r="2.85" fill="#fff" stroke="#1f3560" stroke-width="1.2"/>
<circle cx="73.16" cy="519.34" r="2.85" fill="#fff" stroke="#1f3560" stroke-width="1.2"/>
<circle cx="80.28" cy="519.34" r="2.85" fill="#fff" stroke="#1f3560" stroke-width="1.2"/>
<circle cx="91.76" cy="509.17" r="2.85" fill="#fff" stroke="#1f3560" stroke-width="1.2"/>
<circle cx="114.72" cy="500.85" r="2.85" fill="#fff" stroke="#8c1434" stroke-width="1.2"/>
<circle cx="137.68" cy="500.39" r="2.85" fill="#fff" stroke="#8c1434" stroke-width="1.2"/>
<circle cx="183.60" cy="511.48" r="2.85" fill="#fff" stroke="#1f3560" stroke-width="1.2"/>
<circle cx="252.48" cy="517.95" r="2.85" fill="#fff" stroke="#1f3560" stroke-width="1.2"/>
<circle cx="68.80" cy="501.31" r="3.3" fill="#2c4a80"/>
<circle cx="73.16" cy="499.00" r="3.3" fill="#2c4a80"/>
<circle cx="80.28" cy="502.24" r="3.3" fill="#2c4a80"/>
<circle cx="91.76" cy="492.53" r="3.3" fill="#2c4a80"/>
<circle cx="114.72" cy="477.73" r="3.3" fill="#b5002c"/>
<circle cx="137.68" cy="477.27" r="3.3" fill="#b5002c"/>
<circle cx="183.60" cy="477.27" r="3.3" fill="#2c4a80"/>
<circle cx="252.48" cy="502.24" r="3.3" fill="#2c4a80"/>
<text x="162.60" y="610.00" font-size="10.8" fill="#3a3a3a" stroke="#3a3a3a" stroke-width="0.3" text-anchor="middle" textLength="29.8" lengthAdjust="spacingAndGlyphs">Time (h)</text>
<text transform="translate(39.60,511.80) rotate(-90)" x="0" y="0" font-size="10" fill="#3a3a3a" stroke="#3a3a3a" stroke-width="0.3" text-anchor="middle" textLength="53.7" lengthAdjust="spacingAndGlyphs">F1+2 (nmol/L)</text>
<text x="278.9" y="436.1" font-size="12.8" font-weight="bold" fill="#000" stroke="#000" stroke-width="0.45" textLength="5.9" lengthAdjust="spacingAndGlyphs">F</text>
<line x1="324.75" y1="442.00" x2="324.75" y2="586.80" stroke="#1a1a1a" stroke-width="1.5"/>
<line x1="324.00" y1="583.60" x2="512.25" y2="583.60" stroke="#1a1a1a" stroke-width="1.5"/>
<line x1="321.55" y1="583.60" x2="324.75" y2="583.60" stroke="#1a1a1a" stroke-width="1.2"/>
<text x="318.45" y="586.60" font-size="8.4" fill="#3a3a3a" text-anchor="end">0.0</text>
<line x1="321.55" y1="560.52" x2="324.75" y2="560.52" stroke="#1a1a1a" stroke-width="1.2"/>
<text x="318.45" y="563.52" font-size="8.4" fill="#3a3a3a" text-anchor="end">10.0</text>
<line x1="321.55" y1="537.44" x2="324.75" y2="537.44" stroke="#1a1a1a" stroke-width="1.2"/>
<text x="318.45" y="540.44" font-size="8.4" fill="#3a3a3a" text-anchor="end">20.0</text>
<line x1="321.55" y1="514.36" x2="324.75" y2="514.36" stroke="#1a1a1a" stroke-width="1.2"/>
<text x="318.45" y="517.36" font-size="8.4" fill="#3a3a3a" text-anchor="end">30.0</text>
<line x1="321.55" y1="491.28" x2="324.75" y2="491.28" stroke="#1a1a1a" stroke-width="1.2"/>
<text x="318.45" y="494.28" font-size="8.4" fill="#3a3a3a" text-anchor="end">40.0</text>
<line x1="321.55" y1="468.20" x2="324.75" y2="468.20" stroke="#1a1a1a" stroke-width="1.2"/>
<text x="318.45" y="471.20" font-size="8.4" fill="#3a3a3a" text-anchor="end">50.0</text>
<line x1="321.55" y1="445.12" x2="324.75" y2="445.12" stroke="#1a1a1a" stroke-width="1.2"/>
<text x="318.45" y="448.12" font-size="8.4" fill="#3a3a3a" text-anchor="end">60.0</text>
<line x1="324.75" y1="583.60" x2="324.75" y2="586.80" stroke="#1a1a1a" stroke-width="1.2"/>
<text x="324.75" y="597.60" font-size="8.4" fill="#3a3a3a" text-anchor="middle">0</text>
<line x1="347.75" y1="583.60" x2="347.75" y2="586.80" stroke="#1a1a1a" stroke-width="1.2"/>
<text x="347.75" y="597.60" font-size="8.4" fill="#3a3a3a" text-anchor="middle">1</text>
<line x1="370.75" y1="583.60" x2="370.75" y2="586.80" stroke="#1a1a1a" stroke-width="1.2"/>
<text x="370.75" y="597.60" font-size="8.4" fill="#3a3a3a" text-anchor="middle">2</text>
<line x1="393.75" y1="583.60" x2="393.75" y2="586.80" stroke="#1a1a1a" stroke-width="1.2"/>
<text x="393.75" y="597.60" font-size="8.4" fill="#3a3a3a" text-anchor="middle">3</text>
<line x1="416.75" y1="583.60" x2="416.75" y2="586.80" stroke="#1a1a1a" stroke-width="1.2"/>
<text x="416.75" y="597.60" font-size="8.4" fill="#3a3a3a" text-anchor="middle">4</text>
<line x1="439.75" y1="583.60" x2="439.75" y2="586.80" stroke="#1a1a1a" stroke-width="1.2"/>
<text x="439.75" y="597.60" font-size="8.4" fill="#3a3a3a" text-anchor="middle">5</text>
<line x1="462.75" y1="583.60" x2="462.75" y2="586.80" stroke="#1a1a1a" stroke-width="1.2"/>
<text x="462.75" y="597.60" font-size="8.4" fill="#3a3a3a" text-anchor="middle">6</text>
<line x1="485.75" y1="583.60" x2="485.75" y2="586.80" stroke="#1a1a1a" stroke-width="1.2"/>
<text x="485.75" y="597.60" font-size="8.4" fill="#3a3a3a" text-anchor="middle">7</text>
<line x1="508.75" y1="583.60" x2="508.75" y2="586.80" stroke="#1a1a1a" stroke-width="1.2"/>
<text x="508.75" y="597.60" font-size="8.4" fill="#3a3a3a" text-anchor="middle">8</text>
<path d="M324.75,583.60 L329.12,581.29 L336.25,570.44 L347.75,543.67 L370.75,510.90 L393.75,494.51 L439.75,466.35 L508.75,451.81" stroke="#aaaaaa" stroke-width="1.25" fill="none" stroke-linejoin="round" stroke-dasharray="1.3,0.9"/>
<path d="M324.75,583.60 L329.12,581.52 L336.25,572.06 L347.75,555.90 L370.75,524.05 L393.75,497.97 L439.75,485.51 L508.75,472.12" stroke="#aaaaaa" stroke-width="1.25" fill="none" stroke-linejoin="round" stroke-dasharray="1.3,0.9"/>
<path d="M324.75,583.60 L329.12,581.75 L336.25,573.21 L347.75,557.06 L370.75,533.05 L393.75,514.59 L439.75,490.13 L508.75,465.89" stroke="#aaaaaa" stroke-width="1.25" fill="none" stroke-linejoin="round" stroke-dasharray="1.3,0.9"/>
<circle cx="324.75" cy="583.60" r="3.25" fill="#c6c6c6"/>
<circle cx="329.12" cy="581.29" r="3.25" fill="#c6c6c6"/>
<circle cx="336.25" cy="570.44" r="3.25" fill="#c6c6c6"/>
<circle cx="347.75" cy="543.67" r="3.25" fill="#c6c6c6"/>
<circle cx="370.75" cy="510.90" r="3.25" fill="#c6c6c6"/>
<circle cx="393.75" cy="494.51" r="3.25" fill="#c6c6c6"/>
<circle cx="439.75" cy="466.35" r="3.25" fill="#c6c6c6"/>
<circle cx="508.75" cy="451.81" r="3.25" fill="#c6c6c6"/>
<circle cx="324.75" cy="583.60" r="3.25" fill="#c6c6c6"/>
<circle cx="329.12" cy="581.52" r="3.25" fill="#c6c6c6"/>
<circle cx="336.25" cy="572.06" r="3.25" fill="#c6c6c6"/>
<circle cx="347.75" cy="555.90" r="3.25" fill="#c6c6c6"/>
<circle cx="370.75" cy="524.05" r="3.25" fill="#c6c6c6"/>
<circle cx="393.75" cy="497.97" r="3.25" fill="#c6c6c6"/>
<circle cx="439.75" cy="485.51" r="3.25" fill="#c6c6c6"/>
<circle cx="508.75" cy="472.12" r="3.25" fill="#c6c6c6"/>
<circle cx="324.75" cy="583.60" r="3.25" fill="#c6c6c6"/>
<circle cx="329.12" cy="581.75" r="3.25" fill="#c6c6c6"/>
<circle cx="336.25" cy="573.21" r="3.25" fill="#c6c6c6"/>
<circle cx="347.75" cy="557.06" r="3.25" fill="#c6c6c6"/>
<circle cx="370.75" cy="533.05" r="3.25" fill="#c6c6c6"/>
<circle cx="393.75" cy="514.59" r="3.25" fill="#c6c6c6"/>
<circle cx="439.75" cy="490.13" r="3.25" fill="#c6c6c6"/>
<circle cx="508.75" cy="465.89" r="3.25" fill="#c6c6c6"/>
<path d="M336.50,569.50V578.50M333.60,569.50H339.40M333.60,578.50H339.40" stroke="#2e2e2e" stroke-width="1.35" fill="none"/>
<path d="M347.50,558.50V568.50M344.60,558.50H350.40M344.60,568.50H350.40" stroke="#2e2e2e" stroke-width="1.35" fill="none"/>
<path d="M370.50,528.50V552.50M367.60,528.50H373.40M367.60,552.50H373.40" stroke="#2e2e2e" stroke-width="1.35" fill="none"/>
<path d="M393.50,506.50V539.50M390.60,506.50H396.40M390.60,539.50H396.40" stroke="#2e2e2e" stroke-width="1.35" fill="none"/>
<path d="M439.50,483.50V522.50M436.60,483.50H442.40M436.60,522.50H442.40" stroke="#2e2e2e" stroke-width="1.35" fill="none"/>
<path d="M508.50,472.50V506.50M505.60,472.50H511.40M505.60,506.50H511.40" stroke="#2e2e2e" stroke-width="1.35" fill="none"/>
<path d="M393.50,562.50V569.50M390.60,562.50H396.40M390.60,569.50H396.40" stroke="#2e2e2e" stroke-width="1.35" fill="none"/>
<path d="M439.50,553.50V561.50M436.60,553.50H442.40M436.60,561.50H442.40" stroke="#2e2e2e" stroke-width="1.35" fill="none"/>
<path d="M508.50,542.50V557.50M505.60,542.50H511.40M505.60,557.50H511.40" stroke="#2e2e2e" stroke-width="1.35" fill="none"/>
<path d="M324.75,583.60 L329.12,582.68 L336.25,580.37 L347.75,576.79 L370.75,571.37 L393.75,566.06 L439.75,557.75 L508.75,551.29" stroke="#8c1434" stroke-width="1.5" fill="none" stroke-linejoin="round" stroke-dasharray="3.4,1.8"/>
<circle cx="329.12" cy="582.68" r="3.1" fill="#fff" stroke="#8c1434" stroke-width="1.4"/>
<circle cx="336.25" cy="580.37" r="3.1" fill="#fff" stroke="#8c1434" stroke-width="1.4"/>
<circle cx="347.75" cy="576.79" r="3.1" fill="#fff" stroke="#8c1434" stroke-width="1.4"/>
<circle cx="370.75" cy="571.37" r="3.1" fill="#fff" stroke="#8c1434" stroke-width="1.4"/>
<circle cx="393.75" cy="566.06" r="3.1" fill="#fff" stroke="#8c1434" stroke-width="1.4"/>
<circle cx="439.75" cy="557.75" r="3.1" fill="#fff" stroke="#8c1434" stroke-width="1.4"/>
<circle cx="508.75" cy="551.29" r="3.1" fill="#fff" stroke="#8c1434" stroke-width="1.4"/>
<path d="M324.75,583.60 L329.12,582.22 L336.25,574.83 L347.75,563.29 L370.75,542.75 L393.75,528.21 L439.75,505.36 L508.75,483.20" stroke="#243f70" stroke-width="1.7" fill="none" stroke-linejoin="round"/>
<circle cx="324.75" cy="583.60" r="3.6" fill="#2c4a80"/>
<circle cx="336.25" cy="574.83" r="3.2" fill="#2c4a80"/>
<circle cx="347.75" cy="563.29" r="3.2" fill="#2c4a80"/>
<circle cx="370.75" cy="542.75" r="3.2" fill="#2c4a80"/>
<circle cx="393.75" cy="528.21" r="3.2" fill="#2c4a80"/>
<circle cx="439.75" cy="505.36" r="3.2" fill="#2c4a80"/>
<circle cx="508.75" cy="483.20" r="3.2" fill="#2c4a80"/>
<circle cx="329.12" cy="582.68" r="3.0" fill="#fff" stroke="#8c1434" stroke-width="1.4"/>
<text x="418.50" y="610.00" font-size="10.8" fill="#3a3a3a" stroke="#3a3a3a" stroke-width="0.3" text-anchor="middle" textLength="30.0" lengthAdjust="spacingAndGlyphs">Time (h)</text>
<text transform="translate(295.60,511.80) rotate(-90)" x="0" y="0" font-size="10" fill="#3a3a3a" stroke="#3a3a3a" stroke-width="0.3" text-anchor="middle" textLength="55.7" lengthAdjust="spacingAndGlyphs">AUC (pmol·h/L)</text>
<rect x="0" y="0" width="1.4" height="620" fill="#000"/>
<rect x="0" y="0" width="520" height="1.4" fill="#000"/>
<rect x="518.4" y="0" width="1.6" height="620" fill="#000"/>
<rect x="0" y="618.35" width="520" height="1.65" fill="#000"/>
</svg>
</body></html>
